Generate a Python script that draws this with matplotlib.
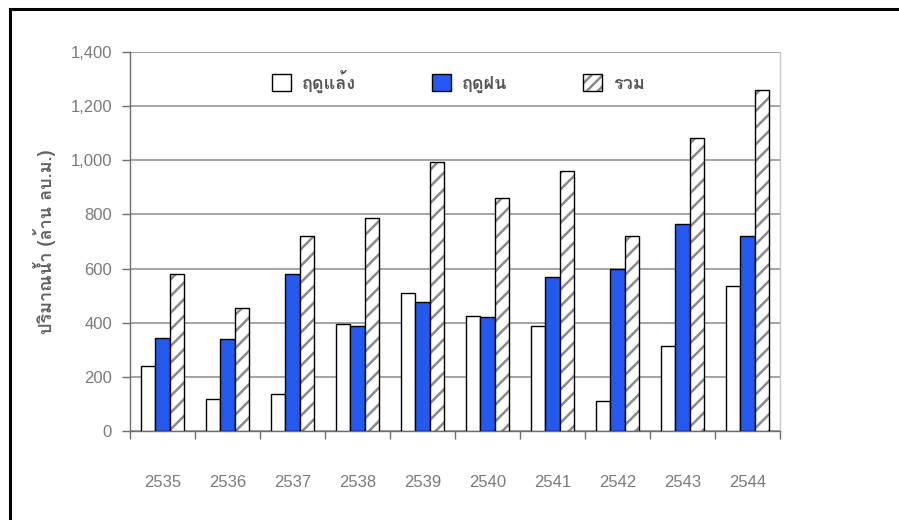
import numpy as np
import matplotlib
matplotlib.use("Agg")
import matplotlib.pyplot as plt
import matplotlib.ticker as mticker
import matplotlib.font_manager as fm
from matplotlib.ft2font import FT2Font
from matplotlib.patches import Patch
from matplotlib.legend_handler import HandlerTuple
from matplotlib.lines import Line2D

years = ["2535", "2536", "2537", "2538", "2539", "2540", "2541", "2542", "2543", "2544"]
dry = [240, 118, 135, 397, 511, 425, 389, 110, 314, 535]
rain = [344, 339, 581, 389, 477, 422, 568, 597, 763, 721]
total = [581, 453, 722, 788, 995, 860, 960, 721, 1082, 1259]
labels = ["ฤดูแล้ง", "ฤดูฝน", "รวม"]
ylabel = "ปริมาณน้ำ (ล้าน ลบ.ม.)"


def thai_family():
    # first installed font that has Thai glyphs
    for f in fm.fontManager.ttflist:
        try:
            if 0x0E24 in FT2Font(f.fname).get_charmap():
                return f.name
        except Exception:
            pass
    return "DejaVu Sans"


thai = [thai_family(), "DejaVu Sans"]

plt.rcParams["font.family"] = ["Liberation Sans", "DejaVu Sans"]
plt.rcParams["hatch.linewidth"] = 1.8

blue = "#2459F0"
grid_c = "#8c8c8c"
text_c = "#7a7a7a"

fig = plt.figure(figsize=(8.99, 5.2), dpi=100)
ax = fig.add_axes([130 / 899, 89 / 520, 650 / 899, 379 / 520])

x = np.arange(len(years))
w = 0.223

ax.bar(x - w, dry, w, color="white", edgecolor="black", linewidth=1.0, zorder=3)
ax.bar(x, rain, w, color=blue, edgecolor="black", linewidth=1.0, zorder=3)
ax.bar(x + w, total, w, color="white", edgecolor="#8a8a8a", hatch="//", linewidth=0, zorder=3)
ax.bar(x + w, total, w, fill=False, edgecolor="black", linewidth=1.0, zorder=4)

ax.set_xlim(-0.5, len(years) - 0.5)
ax.set_ylim(0, 1400)
ax.yaxis.set_major_locator(mticker.MultipleLocator(200))
ax.yaxis.set_major_formatter(mticker.FuncFormatter(lambda v, p: f"{int(v):,}"))
ax.grid(axis="y", color=grid_c, linewidth=1.1, zorder=0)

ax.set_xticks(x)
ax.set_xticklabels(years)
ax.set_xticks(np.arange(len(years) + 1) - 0.5, minor=True)
ax.tick_params(axis="x", which="major", length=0, pad=32, labelsize=12, labelcolor=text_c)
ax.tick_params(axis="x", which="minor", length=6, width=1.0, color="#6e6e6e", direction="out")
ax.tick_params(axis="y", length=6, width=1.0, color="#6e6e6e", pad=7, labelsize=12, labelcolor=text_c)

for s in ("left", "bottom"):
    ax.spines[s].set_color("#6e6e6e")
    ax.spines[s].set_linewidth(1.0)
ax.spines["top"].set_visible(False)
ax.spines["right"].set_color("#c8c8c8")
ax.spines["right"].set_linewidth(1.0)

ax.set_ylabel(ylabel, family=thai, fontsize=13, fontweight="bold", color="#606060", labelpad=10)

h_dry = Patch(facecolor="white", edgecolor="black", linewidth=1.0)
h_rain = Patch(facecolor=blue, edgecolor="black", linewidth=1.0)
h_tot = (Patch(facecolor="white", edgecolor="#8a8a8a", hatch="///", linewidth=0),
         Patch(fill=False, edgecolor="black", linewidth=1.0))
leg = ax.legend([h_dry, h_rain, h_tot], labels, handler_map={tuple: HandlerTuple(ndivide=1)},
                loc="center left", bbox_to_anchor=(0.205, 0.923), ncol=3, frameon=False,
                borderpad=0, handlelength=1.05, handleheight=1.05, handletextpad=0.6,
                columnspacing=4.2, prop=fm.FontProperties(family=thai, size=13, weight="bold"))
for t in leg.get_texts():
    t.set_color("#555555")

# page frame
fig.add_artist(Line2D([9.5 / 899, 9.5 / 899], [0, 1 - 9 / 520], transform=fig.transFigure,
                      color="black", linewidth=2.2))
fig.add_artist(Line2D([9.5 / 899, 1], [1 - 9 / 520, 1 - 9 / 520], transform=fig.transFigure,
                      color="black", linewidth=2.2))

fig.savefig("out.png", dpi=100)
